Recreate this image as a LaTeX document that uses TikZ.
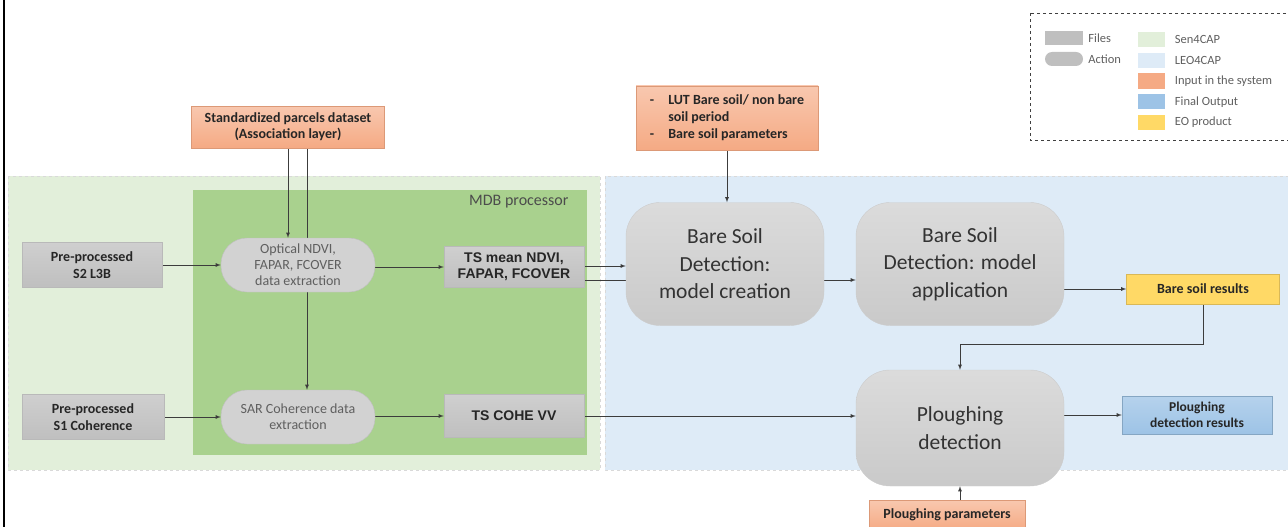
\documentclass[tikz,border=0pt]{standalone}
\usepackage{fontspec}
\setmainfont{Carlito}
\newfontfamily\arialfont{Liberation Sans}
\usetikzlibrary{positioning, calc, arrows}

\definecolor{senfill}{RGB}{226,239,218}
\definecolor{leofill}{RGB}{222,235,247}
\definecolor{mdbfill}{RGB}{169,209,142}
\definecolor{inorange}{RGB}{245,170,132}
\definecolor{outblue}{RGB}{157,195,230}
\definecolor{eoyellow}{RGB}{255,217,102}
\definecolor{filegray}{RGB}{191,191,191}
\definecolor{actgray}{RGB}{210,210,210}
\definecolor{txtgray}{RGB}{95,95,95}
\definecolor{linegray}{RGB}{60,60,60}

\pgfdeclarelayer{bg}
\pgfdeclarelayer{lines}
\pgfsetlayers{bg,lines,main}

\begin{document}
\begin{tikzpicture}[x=1pt, y=-1pt,
    filebox/.style={draw=gray!55, top color=filegray!75, bottom color=filegray, inner sep=0pt,
      align=center, text=black!85, font=\bfseries\fontsize{14}{17}\selectfont},
    actionbox/.style={draw=gray!50, fill=actgray, rounded corners=26pt, inner sep=0pt,
      minimum width=154, minimum height=54, align=center, text=txtgray,
      font=\fontsize{14}{16}\selectfont},
    bigaction/.style={draw=gray!40, top color=gray!28, bottom color=gray!42, rounded corners=34pt,
      inner sep=0pt, align=center, text=black!80, font=\fontsize{21.5}{27.5}\selectfont},
    inputbox/.style={draw=inorange!90!black, top color=inorange!65, bottom color=inorange,
      inner sep=0pt, align=center, text=black!85, font=\bfseries\fontsize{14}{16}\selectfont},
    legtext/.style={text=txtgray, font=\fontsize{12.5}{14}\selectfont, inner sep=0pt, anchor=west},
    arr/.style={-latex, draw=linegray, line width=0.8pt}]
  \useasboundingbox (0,0) rectangle (1288,527);

  % Frame on the left
  \draw[line width=1.3pt] (4,0) -- (4,527);

  % Regions: Sen4CAP, LEO4CAP and the MDB processor
  \begin{pgfonlayer}{bg}
    \fill[senfill] (8,176) rectangle (600,470);
    \draw[gray!30, dashed] (8,176) rectangle (600,470);
    \fill[leofill] (605,176) rectangle (1295,470);
    \draw[gray!30, dashed] (605,176) rectangle (1295,470);
    \fill[mdbfill] (193,190) rectangle (587,455);
  \end{pgfonlayer}
  \node[anchor=north east, text=black!70, font=\fontsize{16}{18}\selectfont] (mdb) at (572,192) {MDB processor};

  % Legend
  \draw[dashed, line width=0.9pt, black!75] (1030,13) rectangle (1295,140);
  \node[fill=filegray, minimum width=38, minimum height=14, inner sep=0pt] (legfile) at (1064,38) {};
  \node[legtext, right=5pt of legfile] {Files};
  \node[fill=filegray, rounded corners=7pt, minimum width=38, minimum height=14, inner sep=0pt] (legact) at (1064,59) {};
  \node[legtext, right=5pt of legact] {Action};
  \foreach \c/\t [count=\i] in {senfill/Sen4CAP, leofill/LEO4CAP, inorange/Input in the system,
      outblue/Final Output, eoyellow/EO product} {
    \node[fill=\c, minimum width=27, minimum height=15, inner sep=0pt] (sw\i) at (1151,{18.75+20.75*\i}) {};
    \node[legtext, right=10pt of sw\i] {\t};
  }

  % Inputs in the system
  \node[inputbox, minimum width=193, minimum height=42] (parcels) at (288,127)
    {Standardized parcels dataset\\(Association layer)};
  \node[inputbox, minimum width=182, minimum height=64, align=left, font=\bfseries\fontsize{14}{17}\selectfont]
    (lut) at (727,118)
    {\begin{tabular}{@{}l@{\hspace{14pt}}l@{}}
      - & LUT Bare soil/ non bare\\
        & soil period\\
      - & Bare soil parameters
    \end{tabular}};
  \node[inputbox, minimum width=156, minimum height=30] (plpar) at (947,515) {Ploughing parameters};

  % Files
  \node[filebox, minimum width=140, minimum height=45] (s2) at (92,265) {Pre-processed\\S2 L3B};
  \node[filebox, minimum width=142, minimum height=45] (s1) at (93,417) {Pre-processed\\S1 Coherence};
  \node[filebox, minimum width=140, minimum height=41, font=\arialfont\bfseries\fontsize{14}{16}\selectfont]
    (tsndvi) at (514,267) {TS mean NDVI,\\FAPAR, FCOVER};
  \node[filebox, minimum width=140, minimum height=43, font=\arialfont\bfseries\fontsize{14}{16}\selectfont]
    (tscohe) at (514,416) {TS COHE VV};

  % Actions
  \node[actionbox] (optical) at (298,265) {Optical NDVI,\\FAPAR, FCOVER\\data extraction};
  \node[actionbox] (sar) at (298,417) {SAR Coherence data\\extraction};
  \node[bigaction, minimum width=198, minimum height=123] (creation) at (725,264)
    {Bare Soil\\Detection:\\model creation};
  \node[bigaction, minimum width=208, minimum height=123] (application) at (960,264)
    {Bare Soil\\Detection: model\\application};
  \node[bigaction, minimum width=208, minimum height=116] (plough) at (960,428)
    {Ploughing\\detection};

  % Results
  \node[draw=eoyellow!85!black, fill=eoyellow, minimum width=153, minimum height=30, inner sep=0pt,
    font=\bfseries\fontsize{14}{16}\selectfont, text=black!85] (bsres) at (1203,289) {Bare soil results};
  \node[draw=outblue!85!black, top color=outblue!75, bottom color=outblue, minimum width=150,
    minimum height=38, inner sep=0pt, align=center, font=\bfseries\fontsize{13.5}{16}\selectfont,
    text=black!85] (plres) at (1197,415) {Ploughing\\detection results};

  % Connectors
  \coordinate (turn) at (1200,344);
  \begin{pgfonlayer}{lines}
    \draw[arr] (parcels.south) -- (parcels.south |- optical.north);
    \draw[arr] ([xshift=19pt]parcels.south) -- ([xshift=19pt]parcels.south |- sar.north);
    \draw[arr] (s2.east) -- (optical.west);
    \draw[arr] (s1.east) -- (sar.west);
    \draw[arr] (optical.east |- tsndvi.west) -- (tsndvi.west);
    \draw[arr] (sar.east |- tscohe.west) -- (tscohe.west);
    \draw[arr] ([yshift=1pt]tsndvi.east) -- ([yshift=1pt]tsndvi.east -| creation.west);
    \draw[arr] ([yshift=-13pt]tsndvi.east) -- ([yshift=-13pt]tsndvi.east -| application.west);
    \draw[arr] (lut.south) -- (lut.south |- creation.north);
    \draw[arr] (application.east |- bsres.west) -- (bsres.west);
    \draw[arr] (bsres.south) -- (bsres.south |- turn) -| (plough.north);
    \draw[arr] (tscohe.east) -- (tscohe.east -| plough.west);
    \draw[arr] (plough.east |- plres.west) -- (plres.west);
    \draw[arr] (plpar.north -| plough.south) -- (plough.south);
  \end{pgfonlayer}
\end{tikzpicture}
\end{document}
